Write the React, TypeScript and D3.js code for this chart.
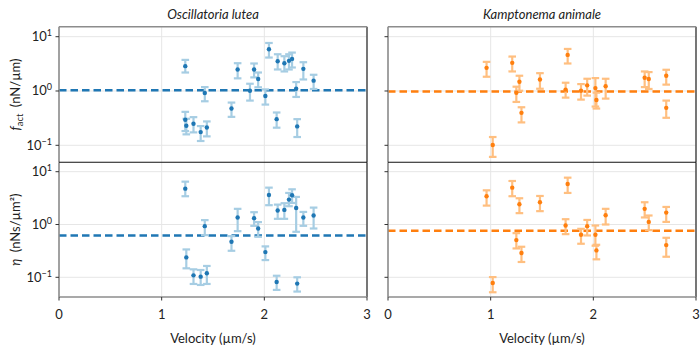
import React, { useEffect, useRef } from 'react';
import * as d3 from 'd3';

// Oscillatoria lutea, active force
const oscFactVel = [1.23, 1.23, 1.24, 1.31, 1.38, 1.42, 1.44, 1.68, 1.74, 1.86, 1.90, 1.94, 2.01, 2.045, 2.12, 2.13, 2.195, 2.24, 2.27, 2.31, 2.32, 2.38, 2.48];
const oscFact = [2.87, 0.295, 0.229, 0.249, 0.175, 0.92, 0.213, 0.475, 2.49, 1.01, 2.49, 1.66, 0.81, 5.87, 0.303, 3.54, 3.25, 3.59, 3.90, 1.10, 0.223, 2.56, 1.55];
const oscFactLo = [2.19, 0.183, 0.159, 0.173, 0.120, 0.647, 0.146, 0.334, 1.71, 0.666, 1.78, 1.17, 0.562, 4.13, 0.211, 2.49, 2.29, 2.49, 2.71, 0.777, 0.142, 1.63, 1.09];
const oscFactHi = [3.74, 0.413, 0.308, 0.330, 0.226, 1.18, 0.275, 0.612, 3.25, 1.36, 3.21, 2.19, 1.07, 7.66, 0.402, 4.75, 4.37, 4.75, 5.10, 1.46, 0.303, 3.39, 1.99];

// Oscillatoria lutea, viscosity
const oscEtaVel = [1.23, 1.24, 1.31, 1.38, 1.42, 1.44, 1.68, 1.74, 1.90, 1.94, 2.01, 2.045, 2.12, 2.13, 2.195, 2.24, 2.27, 2.31, 2.32, 2.38, 2.48];
const oscEta = [4.78, 0.238, 0.109, 0.103, 0.93, 0.119, 0.471, 1.36, 1.32, 0.84, 0.30, 3.63, 0.0817, 1.84, 1.89, 2.96, 3.58, 2.06, 0.076, 1.36, 1.48];
const oscEtaLo = [3.43, 0.148, 0.0748, 0.0716, 0.629, 0.0748, 0.318, 0.748, 0.944, 0.585, 0.212, 2.32, 0.0577, 1.28, 1.28, 2.22, 2.56, 0.727, 0.0537, 0.944, 0.84];
const oscEtaHi = [6.48, 0.337, 0.1416, 0.1375, 1.21, 0.164, 0.603, 1.98, 1.71, 1.11, 0.385, 4.99, 0.107, 2.38, 2.53, 3.96, 4.64, 3.33, 0.1, 1.73, 2.09];

// Kamptonema animale
const kamVel = [0.96, 1.02, 1.21, 1.25, 1.28, 1.30, 1.48, 1.73, 1.75, 1.88, 1.94, 2.02, 2.03, 2.12, 2.50, 2.54, 2.71, 2.71];
const kamFact = [2.67, 0.101, 3.30, 0.93, 1.48, 0.396, 1.63, 1.06, 4.62, 1.01, 1.27, 1.13, 0.684, 1.22, 1.75, 1.66, 1.91, 0.489];
const kamFactLo = [1.83, 0.0612, 2.29, 0.629, 1.01, 0.264, 1.10, 0.755, 3.21, 0.694, 0.822, 0.517, 0.475, 0.724, 1.18, 1.09, 1.31, 0.321];
const kamFactHi = [3.44, 0.142, 4.31, 1.20, 1.91, 0.502, 2.13, 1.42, 5.95, 1.34, 1.68, 1.73, 0.932, 1.68, 2.29, 2.23, 2.46, 0.666];
const kamEta = [3.43, 0.078, 4.99, 0.506, 2.42, 0.288, 2.64, 0.957, 5.85, 0.638, 0.93, 0.638, 0.323, 1.50, 1.98, 1.12, 1.68, 0.407];
const kamEtaLo = [2.28, 0.0521, 3.43, 0.352, 1.64, 0.195, 1.79, 0.657, 3.96, 0.432, 0.62, 0.396, 0.219, 1.0, 1.36, 0.782, 1.12, 0.245];
const kamEtaHi = [4.44, 0.101, 6.67, 0.686, 3.14, 0.379, 3.47, 1.26, 7.71, 0.828, 1.22, 0.957, 0.413, 1.98, 2.64, 1.48, 2.15, 0.56];

// fitted means (dashed lines)
const meanFact = [1.03, 0.98];
const meanEta = [0.62, 0.76];

const species = ['Oscillatoria lutea', 'Kamptonema animale'];
const xTicks = [0, 1, 2, 3];
const yTicks = [0.1, 1, 10];
const yExps = ['−1', '0', '1'];

const dark = ['#1f77b4', '#ff7f0e'];
const light = ['#a6cde3', '#ffbf80'];

const FONT = 'Lato, "DejaVu Sans", sans-serif';
const FS = '13px';

function App() {
    const ref = useRef<SVGSVGElement | null>(null);

    useEffect(() => {
        const svg = d3.select(ref.current);
        svg.selectAll('*').remove();

        const cols = [[59, 367], [388, 696]];
        const rows = [
            { top: 26.7, bottom: 162.3, y: d3.scaleLog().domain([Math.pow(10, -1.313), Math.pow(10, 1.184)]).range([162.3, 26.7]) },
            { top: 162.3, bottom: 297, y: d3.scaleLog().domain([Math.pow(10, -1.373), Math.pow(10, 1.178)]).range([297, 162.3]) },
        ];

        const panels = [
            { r: 0, c: 0, vel: oscFactVel, val: oscFact, lo: oscFactLo, hi: oscFactHi, mean: meanFact[0] },
            { r: 0, c: 1, vel: kamVel, val: kamFact, lo: kamFactLo, hi: kamFactHi, mean: meanFact[1] },
            { r: 1, c: 0, vel: oscEtaVel, val: oscEta, lo: oscEtaLo, hi: oscEtaHi, mean: meanEta[0] },
            { r: 1, c: 1, vel: kamVel, val: kamEta, lo: kamEtaLo, hi: kamEtaHi, mean: meanEta[1] },
        ];

        panels.forEach(p => {
            const row = rows[p.r];
            const [x0, x1] = cols[p.c];
            const x = d3.scaleLinear().domain([0, 3]).range([x0, x1]);
            const y = row.y;
            const g = svg.append('g');

            // grid
            g.selectAll('.gx').data(xTicks).enter().append('line')
                .attr('x1', d => x(d)).attr('x2', d => x(d))
                .attr('y1', row.top).attr('y2', row.bottom)
                .style('stroke', '#e6e6e6').style('stroke-width', 1);
            g.selectAll('.gy').data(yTicks).enter().append('line')
                .attr('x1', x0).attr('x2', x1)
                .attr('y1', d => y(d)).attr('y2', d => y(d))
                .style('stroke', '#e6e6e6').style('stroke-width', 1);

            // mean
            g.append('line')
                .attr('x1', x0).attr('x2', x1)
                .attr('y1', y(p.mean)).attr('y2', y(p.mean))
                .style('stroke', dark[p.c]).style('stroke-width', 2.5)
                .style('stroke-dasharray', '7.5,4');

            // error bars
            const idx = d3.range(p.vel.length);
            const eb = g.selectAll('.eb').data(idx).enter().append('g')
                .style('stroke', light[p.c]).style('stroke-width', 2.2).style('fill', 'none');
            eb.append('line')
                .attr('x1', i => x(p.vel[i])).attr('x2', i => x(p.vel[i]))
                .attr('y1', i => y(p.lo[i])).attr('y2', i => y(p.hi[i]));
            eb.append('line')
                .attr('x1', i => x(p.vel[i]) - 3.8).attr('x2', i => x(p.vel[i]) + 3.8)
                .attr('y1', i => y(p.lo[i])).attr('y2', i => y(p.lo[i]));
            eb.append('line')
                .attr('x1', i => x(p.vel[i]) - 3.8).attr('x2', i => x(p.vel[i]) + 3.8)
                .attr('y1', i => y(p.hi[i])).attr('y2', i => y(p.hi[i]));

            g.selectAll('.pt').data(idx).enter().append('circle')
                .attr('cx', i => x(p.vel[i])).attr('cy', i => y(p.val[i]))
                .attr('r', 2.2)
                .style('fill', dark[p.c]);

            // frame
            g.append('line').attr('x1', x0).attr('x2', x0).attr('y1', row.top).attr('y2', row.bottom)
                .style('stroke', '#8c8c8c').style('stroke-width', 1.6);
            g.append('line').attr('x1', x1).attr('x2', x1).attr('y1', row.top).attr('y2', row.bottom)
                .style('stroke', '#333').style('stroke-width', 1.3);
            g.append('line').attr('x1', x0).attr('x2', x1).attr('y1', row.top).attr('y2', row.top)
                .style('stroke', p.r === 0 ? '#8c8c8c' : '#111').style('stroke-width', p.r === 0 ? 1.6 : 1.1);
            if (p.r === 1) {
                g.append('line').attr('x1', x0).attr('x2', x1).attr('y1', row.bottom).attr('y2', row.bottom)
                    .style('stroke', '#8c8c8c').style('stroke-width', 1.6);
            }

            // y ticks
            g.selectAll('.ty').data(yTicks).enter().append('line')
                .attr('x1', x0 - 3.5).attr('x2', x0)
                .attr('y1', d => y(d)).attr('y2', d => y(d))
                .style('stroke', '#333').style('stroke-width', 1);

            if (p.c === 0) {
                const lab = g.selectAll('.ly').data(yTicks).enter().append('text')
                    .attr('x', x0 - 7).attr('y', d => y(d) + 4.5)
                    .attr('text-anchor', 'end')
                    .style('font-family', FONT).style('font-size', FS).style('fill', '#222');
                lab.append('tspan').text('10');
                lab.append('tspan').attr('dy', -5).style('font-size', '9px').text((d, i) => yExps[i]);
            }

            if (p.r === 1) {
                g.selectAll('.tx').data(xTicks).enter().append('line')
                    .attr('x1', d => x(d)).attr('x2', d => x(d))
                    .attr('y1', row.bottom).attr('y2', row.bottom + 3.5)
                    .style('stroke', '#333').style('stroke-width', 1);
                g.selectAll('.lx').data(xTicks).enter().append('text')
                    .attr('x', d => x(d)).attr('y', row.bottom + 22)
                    .attr('text-anchor', 'middle')
                    .style('font-family', FONT).style('font-size', FS).style('fill', '#222')
                    .text(d => d);
                g.append('text')
                    .attr('x', (x0 + x1) / 2).attr('y', row.bottom + 46)
                    .attr('text-anchor', 'middle')
                    .style('font-family', FONT).style('font-size', FS).style('fill', '#222')
                    .text('Velocity (µm/s)');
            } else {
                g.append('text')
                    .attr('x', (x0 + x1) / 2).attr('y', 19)
                    .attr('text-anchor', 'middle')
                    .style('font-family', FONT).style('font-size', FS).style('font-style', 'italic').style('fill', '#222')
                    .text(species[p.c]);
            }
        });

        // y axis labels
        const yl1 = svg.append('text')
            .attr('transform', `translate(20, ${(rows[0].top + rows[0].bottom) / 2}) rotate(-90)`)
            .attr('text-anchor', 'middle')
            .style('font-family', FONT).style('font-size', FS).style('fill', '#222');
        yl1.append('tspan').style('font-style', 'italic').text('f');
        yl1.append('tspan').attr('dy', 3).style('font-size', '9.5px').text('act');
        yl1.append('tspan').attr('dy', -3).text('\u2002(nN/µm)');

        const yl2 = svg.append('text')
            .attr('transform', `translate(20, ${(rows[1].top + rows[1].bottom) / 2}) rotate(-90)`)
            .attr('text-anchor', 'middle')
            .style('font-family', FONT).style('font-size', FS).style('fill', '#222');
        yl2.append('tspan').style('font-style', 'italic').text('η');
        yl2.append('tspan').text('\u2002(nNs/µm²)');
    }, []);

    return (<svg ref={ref} width={700} height={350} style={{ position: 'absolute', left: 0, top: 0, background: '#fff' }} />);
}

export default App;
